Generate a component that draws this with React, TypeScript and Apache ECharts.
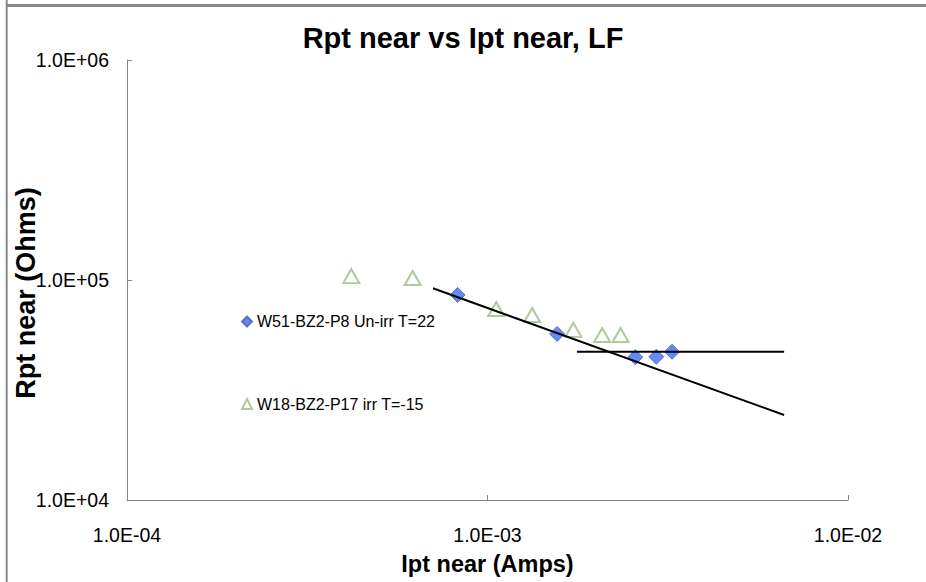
import React, { useEffect, useRef } from "react";
import * as echarts from "echarts";

// Series values
const unirrCurrent = [8.26e-4, 1.56e-3, 2.57e-3, 2.94e-3, 3.25e-3];
const unirrResistance = [85500, 56900, 44600, 44800, 47200];
const irrCurrent = [4.19e-4, 6.2e-4, 1.057e-3, 1.33e-3, 1.73e-3, 2.08e-3, 2.34e-3];
const irrResistance = [104200, 102100, 73800, 69300, 59300, 56200, 56200];
// Trend lines (end points)
const trendPowerCurrent = [7.06e-4, 6.65e-3];
const trendPowerResistance = [91700, 24350];
const trendFlatCurrent = [1.77e-3, 6.65e-3];
const trendFlatResistance = [47200, 47200];
// Tick labels
const xTickLabels = ["1.0E-04", "1.0E-03", "1.0E-02"];
const yTickLabels = ["1.0E+04", "1.0E+05", "1.0E+06"];
const seriesNames = ["W51-BZ2-P8 Un-irr T=22", "W18-BZ2-P17 irr T=-15"];

const FONT = "'Liberation Sans', Arial, sans-serif";

const zip = (xs: number[], ys: number[]) => xs.map((x, i) => [x, ys[i]]);

export default function App() {
  const ref = useRef<HTMLDivElement>(null);
  useEffect(() => {
    if (!ref.current) return;
    const chart = echarts.init(ref.current, null, { renderer: "svg" });
    const axisColor = "#868686";
    chart.setOption({
      animation: false,
      backgroundColor: "#ffffff",
      title: {
        text: "Rpt near vs Ipt near, LF",
        left: "center",
        top: 18,
        textStyle: { fontFamily: FONT, fontSize: 29, fontWeight: "bold", color: "#000" },
      },
      grid: { left: 127, right: 78, top: 60, bottom: 82, containLabel: false },
      legend: {
        data: [
          { name: seriesNames[0], icon: "diamond" },
          { name: seriesNames[1], icon: "emptyTriangle" },
        ],
        orient: "vertical",
        left: 241,
        top: 313.5,
        padding: 0,
        itemGap: 66.5,
        itemWidth: 10,
        itemHeight: 10,
        selectedMode: false,
        textStyle: { fontFamily: FONT, fontSize: 16, lineHeight: 16, color: "#000" },
      },
      xAxis: {
        type: "log",
        logBase: 10,
        min: 1e-4,
        max: 1e-2,
        name: "Ipt near (Amps)",
        nameLocation: "middle",
        nameGap: 52,
        nameTextStyle: { fontFamily: FONT, fontSize: 23.5, fontWeight: "bold", color: "#000" },
        axisLine: { lineStyle: { color: axisColor, width: 1 } },
        axisTick: { inside: true, length: 5, lineStyle: { color: axisColor } },
        minorTick: { show: false },
        splitLine: { show: false },
        axisLabel: {
          margin: 25,
          fontFamily: FONT,
          fontSize: 19.5,
          color: "#000",
          formatter: (v: number) => xTickLabels[Math.round(Math.log10(v)) + 4] ?? "",
        },
      },
      yAxis: {
        type: "log",
        logBase: 10,
        min: 1e4,
        max: 1e6,
        axisLine: { show: true, lineStyle: { color: axisColor, width: 1 } },
        axisTick: { show: true, inside: true, length: 5, lineStyle: { color: axisColor } },
        splitLine: { show: false },
        axisLabel: {
          margin: 18,
          fontFamily: FONT,
          fontSize: 19.5,
          color: "#000",
          formatter: (v: number) => yTickLabels[Math.round(Math.log10(v)) - 4] ?? "",
        },
      },
      series: [
        {
          name: seriesNames[0],
          type: "scatter",
          symbol: "diamond",
          symbolSize: 15,
          itemStyle: { color: "#3F6CF2", borderColor: "#4A5DB5", borderWidth: 1 },
          data: zip(unirrCurrent, unirrResistance),
          z: 3,
        },
        {
          name: seriesNames[1],
          type: "scatter",
          symbol: "emptyTriangle",
          symbolSize: [16, 14],
          itemStyle: { color: "#9DBB87", borderColor: "#9DBB87", borderWidth: 1.5 },
          data: zip(irrCurrent, irrResistance),
          z: 3,
        },
        {
          name: "trend-power",
          type: "line",
          showSymbol: false,
          symbol: "none",
          lineStyle: { color: "#000", width: 2 },
          data: zip(trendPowerCurrent, trendPowerResistance),
          z: 4,
        },
        {
          name: "trend-flat",
          type: "line",
          showSymbol: false,
          symbol: "none",
          lineStyle: { color: "#000", width: 2 },
          data: zip(trendFlatCurrent, trendFlatResistance),
          z: 4,
        },
      ],
      graphic: [
        {
          type: "line",
          shape: { x1: 7, y1: 5.5, x2: 926, y2: 5.5 },
          style: { stroke: "#8A8A8A", lineWidth: 3 },
        },
        {
          type: "line",
          shape: { x1: 6.7, y1: 0, x2: 6.7, y2: 582 },
          style: { stroke: "#8A8A8A", lineWidth: 2 },
        },
        {
          type: "text",
          x: 26,
          y: 293,
          rotation: Math.PI / 2,
          style: {
            text: "Rpt near (Ohms)",
            align: "center",
            verticalAlign: "middle",
            font: `bold 27px ${FONT}`,
            fill: "#000",
          },
        },
      ],
    });
    return () => chart.dispose();
  }, []);
  return (
    <div
      ref={ref}
      style={{ position: "fixed", left: 0, top: 0, width: 926, height: 582 }}
    />
  );
}
